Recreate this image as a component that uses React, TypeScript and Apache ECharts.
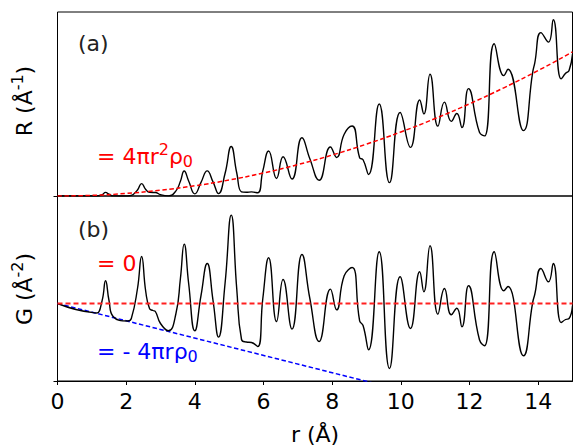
import React, { useEffect, useRef } from "react";
import * as echarts from "echarts";

// r positions (Å) of the sampled points of the measured curves
const rPoints = [0, 1.09, 1.15, 1.3, 1.4, 1.5, 1.62, 2.05, 2.15, 2.33, 2.45, 2.57, 2.68, 2.78, 2.85, 3.0, 3.23, 3.45, 3.58, 3.69, 3.82, 4.0, 4.18, 4.36, 4.53, 4.69, 4.88, 5.06, 5.22, 5.36, 5.5, 5.65, 5.83, 5.98, 6.15, 6.38, 6.57, 6.83, 7.12, 7.35, 7.62, 7.95, 8.13, 8.35, 8.58, 8.8, 8.9, 9.06, 9.37, 9.67, 9.98, 10.28, 10.55, 10.67, 10.85, 11.08, 11.27, 11.47, 11.63, 11.78, 11.97, 12.29, 12.44, 12.72, 13.0, 13.12, 13.57, 13.84, 13.9, 14.08, 14.3, 14.44, 14.67, 14.8, 14.9, 15.0];

// panel (a): R(r)
const rValues = [0, 0, 0.05, 1.85, 4.87, 2.4, 0.16, 0.05, 0.77, 8.19, 16.71, 8.8, 4.87, 4.74, 4.75, 1.79, 0.21, 6.85, 20.04, 33.7, 20.26, 2.92, 18.46, 33.88, 19.11, 3.27, 30.36, 66.88, 31.4, 5.56, 4.99, 5.58, 4.33, 33.92, 60.82, 23.73, 53.11, 22.87, 78.74, 50.4, 21.27, 66.12, 52.05, 83.44, 94.57, 51.76, 48.94, 29.05, 124.39, 18.03, 112.8, 65.71, 129.72, 110.96, 164.43, 94.34, 126.77, 100.84, 111.53, 92.59, 145.13, 86.04, 81.24, 205.72, 162.7, 171.2, 88.31, 167.07, 179.64, 220.76, 207.92, 238.12, 158.28, 165.79, 169.69, 191.63];

// panel (b): G(r)
const gValues = [0, -0.94, -0.95, 0.3, 2.27, 0.3, -1.3, -1.75, -1.5, 1.5, 4.7, 1.2, -0.5, -0.7, -0.8, -2.0, -2.73, -1.0, 2.5, 5.94, 2.0, -2.73, 0.8, 4.0, 0.3, -3.36, 2.0, 8.84, 1.5, -3.6, -3.85, -3.9, -4.3, 0.5, 4.57, -1.8, 2.4, -2.56, 4.9, 0.5, -3.8, 1.44, -0.63, 2.77, 3.6, -1.73, -2.2, -4.63, 5.17, -6.5, 2.67, -2.5, 3.17, 1.17, 5.77, -1.07, 1.5, -1.13, -0.47, -2.33, 1.77, -3.63, -4.23, 5.17, 1.27, 1.7, -5.23, 0.1, 0.9, 3.5, 2.17, 4.0, -1.9, -1.6, -1.5, -0.2];

// reference curve 4πr²ρ0
const refR = [0, 1, 2, 3, 4, 5, 6, 7, 8, 9, 10, 11, 12, 13, 14, 15];
const refRValues = [0, 0.865, 3.46, 7.785, 13.84, 21.625, 31.14, 42.385, 55.36, 70.065, 86.5, 104.665, 124.56, 146.185, 169.54, 194.625];

// zero line and -4πrρ0 line endpoints
const zeroLineR = [0, 15];
const zeroLineG = [0, 0];
const slopeLineR = [0, 15];
const slopeLineG = [0, -12.975];

const xTickValues = [0, 2, 4, 6, 8, 10, 12, 14];
const xTickLabels = ["0", "2", "4", "6", "8", "10", "12", "14"];

const FONT = "DejaVu Sans";

const zip = (xs: number[], ys: number[]) => xs.map((x, i) => [x, ys[i]]);

export default function App() {
  const ref = useRef<HTMLDivElement>(null);
  useEffect(() => {
    if (!ref.current) return;
    const chart = echarts.init(ref.current, null, { renderer: "svg" });
    const richMath = (color: string) => ({
      n: { fontSize: 22, fontFamily: FONT, fill: color, color },
      sup: { fontSize: 16, fontFamily: FONT, fill: color, color, padding: [0, 0, 14, 0] },
      sub: { fontSize: 16, fontFamily: FONT, fill: color, color, padding: [10, 0, 0, 0] },
    });
    const gridBase = { show: true, borderColor: "#000", borderWidth: 1, backgroundColor: "transparent", containLabel: false, outerBoundsMode: "none" };
    chart.setOption({
      animation: false,
      backgroundColor: "#fff",
      grid: [
        { ...gridBase, left: 57.5, top: 12, width: 515, height: 184 },
        { ...gridBase, left: 57.5, top: 196, width: 515, height: 185 },
      ],
      xAxis: [
        {
          gridIndex: 0, type: "value", min: 0, max: 15,
          axisLine: { show: false, onZero: false }, axisTick: { show: false }, axisLabel: { show: false }, splitLine: { show: false },
        },
        {
          gridIndex: 1, type: "value", min: 0, max: 15, interval: 2,
          axisLine: { show: true, onZero: false, lineStyle: { color: "#000", width: 1 } },
          axisTick: { show: true, length: 4, customValues: xTickValues, lineStyle: { color: "#000" } },
          axisLabel: {
            fontSize: 22, fontFamily: FONT, color: "#000", margin: 9,
            customValues: xTickValues,
            formatter: (v: number) => xTickLabels[xTickValues.indexOf(v)] ?? "",
          },
          splitLine: { show: false },
          name: "r (Å)", nameLocation: "middle", nameGap: 42,
          nameTextStyle: { fontSize: 22, fontFamily: FONT, color: "#000" },
        },
      ],
      yAxis: [
        {
          gridIndex: 0, type: "value", min: 0, max: 248.6,
          axisLine: { show: false, onZero: false }, axisLabel: { show: false }, splitLine: { show: false },
          axisTick: { show: true, length: 4, customValues: [0], lineStyle: { color: "#000" } },
        },
        {
          gridIndex: 1, type: "value", min: -7.75, max: 10.75,
          axisLine: { show: false, onZero: false }, axisLabel: { show: false }, splitLine: { show: false },
          axisTick: { show: true, length: 4, customValues: [-7.75], lineStyle: { color: "#000" } },
        },
      ],
      series: [
        {
          type: "line", xAxisIndex: 0, yAxisIndex: 0, data: zip(refR, refRValues), smooth: true, showSymbol: false,
          lineStyle: { color: "#ff0000", width: 1.5, type: [4.5, 2.5] }, z: 3,
        },
        {
          type: "line", xAxisIndex: 0, yAxisIndex: 0, data: zip(rPoints, rValues), smooth: 0.5, showSymbol: false,
          lineStyle: { color: "#000", width: 1.4 }, z: 2,
        },
        {
          type: "line", xAxisIndex: 1, yAxisIndex: 1, data: zip(slopeLineR, slopeLineG), showSymbol: false,
          lineStyle: { color: "#0000ff", width: 1.5, type: [4.5, 2.5] }, z: 1,
        },
        {
          type: "line", xAxisIndex: 1, yAxisIndex: 1, data: zip(rPoints, gValues), smooth: 0.5, showSymbol: false,
          lineStyle: { color: "#000", width: 1.4 }, z: 2,
        },
        {
          type: "line", xAxisIndex: 1, yAxisIndex: 1, data: zip(zeroLineR, zeroLineG), showSymbol: false,
          lineStyle: { color: "#ff2020", width: 1.8, type: [5, 3] }, z: 3,
        },
      ],
      graphic: [
        { type: "text", x: 24, y: 101, rotation: Math.PI / 2, style: { text: "{n|R (Å}{sup|-1}{n|)}", rich: richMath("#000"), align: "center", verticalAlign: "middle" } },
        { type: "text", x: 24, y: 289, rotation: Math.PI / 2, style: { text: "{n|G (Å}{sup|-2}{n|)}", rich: richMath("#000"), align: "center", verticalAlign: "middle" } },
        { type: "text", x: 78, y: 43, style: { text: "(a)", fontSize: 22, fontFamily: FONT, fill: "#222", align: "left", verticalAlign: "middle" } },
        { type: "text", x: 78, y: 229, style: { text: "(b)", fontSize: 22, fontFamily: FONT, fill: "#222", align: "left", verticalAlign: "middle" } },
        { type: "text", x: 97, y: 156, style: { text: "{n|= 4πr}{sup|2}{n|ρ}{sub|0}", rich: richMath("#ff0000"), fill: "#ff0000", align: "left", verticalAlign: "middle" } },
        { type: "text", x: 97, y: 263, style: { text: "{n|= 0}", rich: richMath("#ff0000"), fill: "#ff0000", align: "left", verticalAlign: "middle" } },
        { type: "text", x: 97, y: 351, style: { text: "{n|= - 4πrρ}{sub|0}", rich: richMath("#0000ff"), fill: "#0000ff", align: "left", verticalAlign: "middle" } },
      ],
    });
    return () => chart.dispose();
  }, []);
  return <div ref={ref} style={{ position: "fixed", left: 0, top: 0, width: 573, height: 448, background: "#fff" }} />;
}
